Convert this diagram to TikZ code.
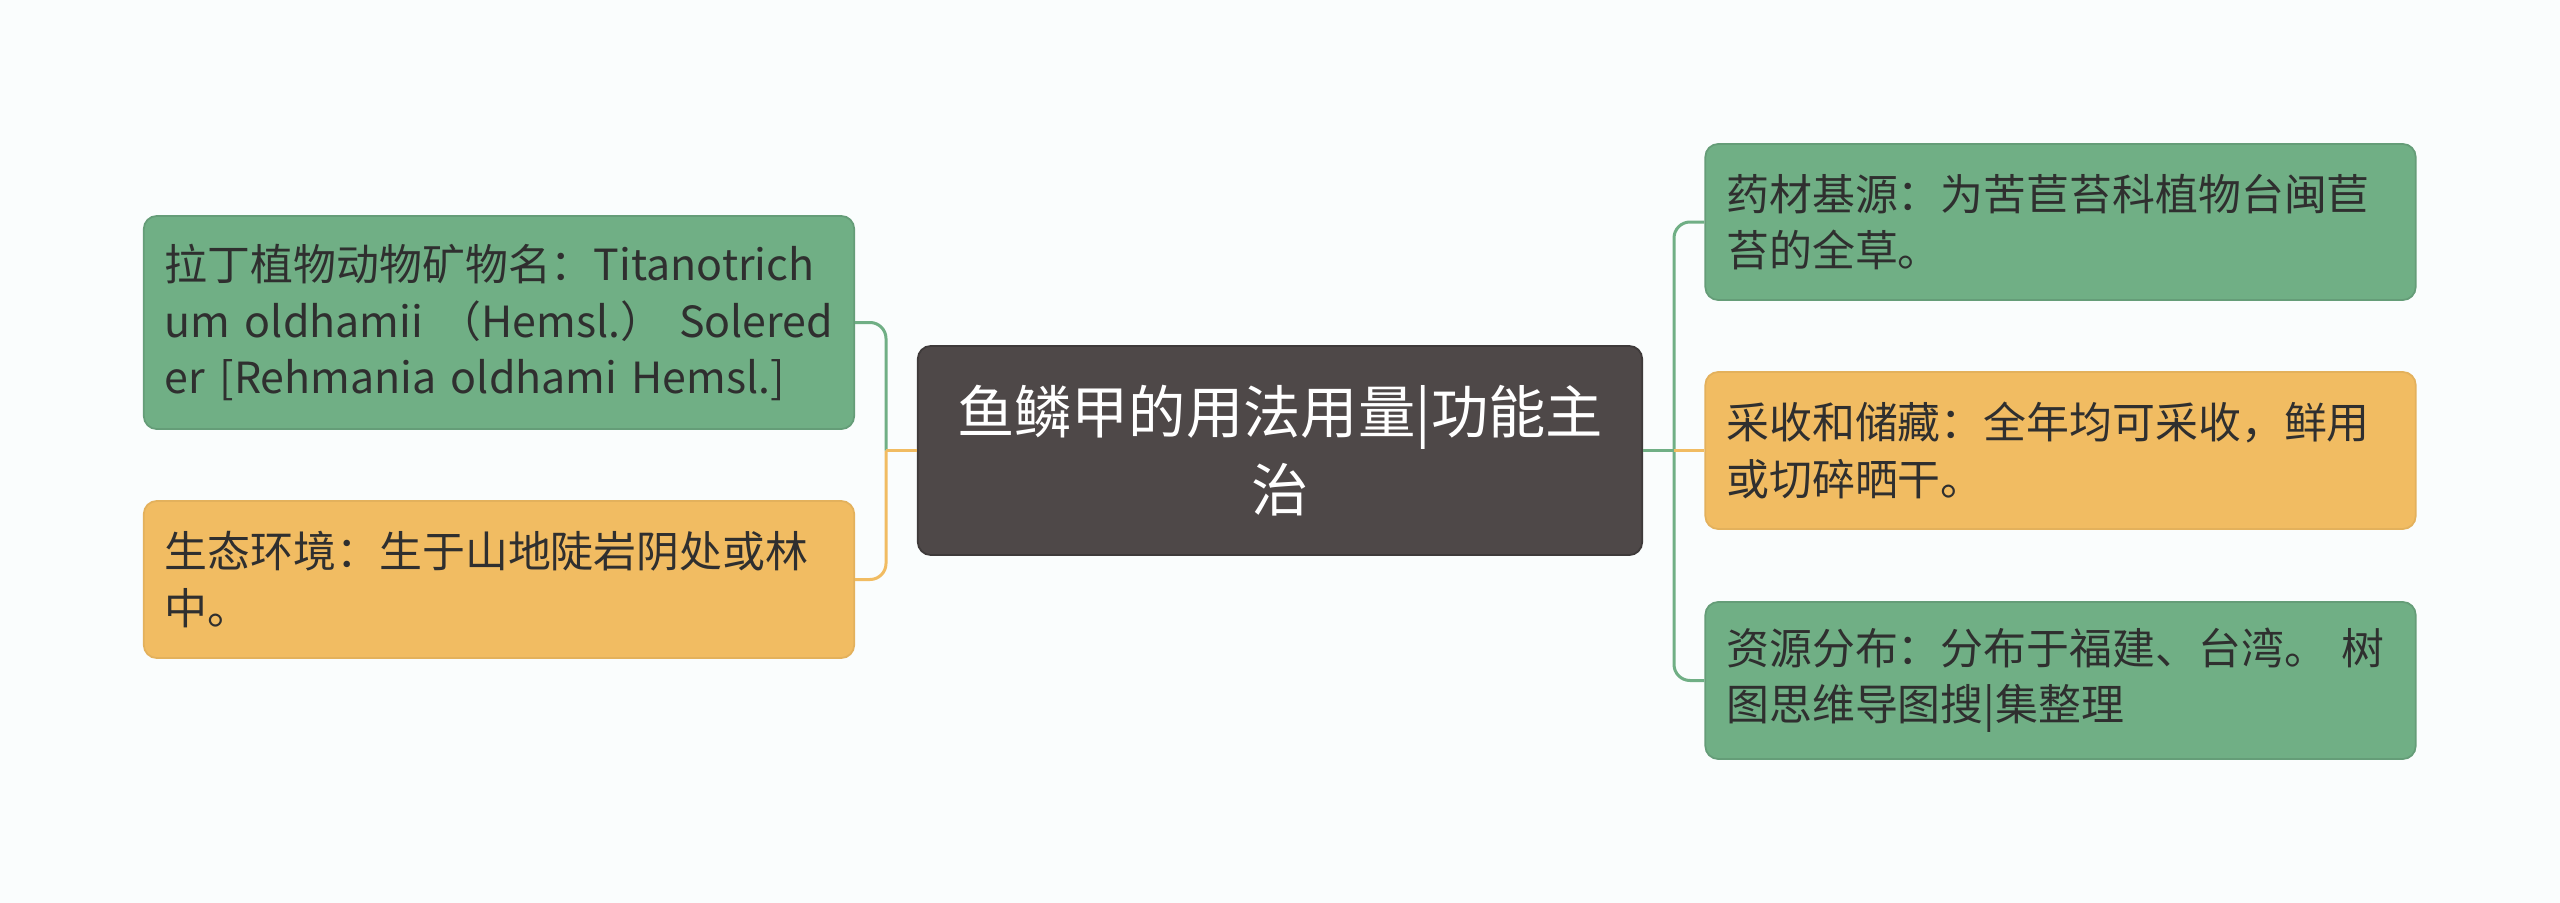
\documentclass[tikz,border=0pt]{standalone}
\usepackage{fontspec}
\newfontfamily\cjk{Noto Sans CJK SC}

\definecolor{leafgreen}{HTML}{70AF85}
\definecolor{leaforange}{HTML}{F1BC62}
\definecolor{topicgray}{HTML}{4E4848}
\definecolor{inkgray}{HTML}{2F2F2F}
\definecolor{paper}{HTML}{FAFDFD}

\begin{document}
\begin{tikzpicture}[x=0.01cm, y=-0.01cm,
			leaf/.style={rectangle, rounded corners=0.13cm, text width=6.68cm, inner xsep=0.21cm, inner ysep=0cm,
				align=left, text=inkgray, line width=0.5pt, font=\cjk\fontsize{12.2}{16}\selectfont},
			greenleaf/.style={leaf, fill=leafgreen, draw=leafgreen!90!black},
			orangeleaf/.style={leaf, fill=leaforange, draw=leaforange!94!black},
			topic/.style={rectangle, rounded corners=0.13cm, minimum width=7.24cm, minimum height=2.09cm,
				fill=topicgray, draw=topicgray!80!black, line width=0.5pt, text=white, align=center,
				font=\cjk\fontsize{16.3}{22}\selectfont},
			greenlink/.style={draw=leafgreen, line width=0.03cm},
			orangelink/.style={draw=leaforange, line width=0.03cm},
			]
			
			% page
			\fill[paper] (0,0) rectangle (2560,903);
			
			% central topic
			\node[topic] (topic) at (1280,450.5) {鱼鳞甲的用法用量|功能主\\治};
			
			% left side
			\node[greenleaf, minimum height=2.13cm] (latin) at (499,322.5)
				{拉丁植物动物矿物名：Titanotrich\\um oldhamii\hskip 0pt plus 1fill（Hemsl.）\hskip 0pt plus 1fill Solered\\er [Rehmania oldhami Hemsl.]};
			\node[orangeleaf, minimum height=1.57cm] (habitat) at (499,579.5)
				{生态环境：生于山地陡岩阴处或林\\中。};
			
			% right side
			\node[greenleaf, minimum height=1.56cm] (source) at (2060.5,222)
				{药材基源：为苦苣苔科植物台闽苣\\苔的全草。};
			\node[orangeleaf, minimum height=1.57cm] (harvest) at (2060.5,450.5)
				{采收和储藏：全年均可采收，鲜用\\或切碎晒干。};
			\node[greenleaf, minimum height=1.57cm] (spread) at (2060.5,680.5)
				{资源分布：分布于福建、台湾。 树\\图思维导图搜|集整理};
			
			% branch points
			\coordinate (jl) at (886,450.5);
			\coordinate (jr) at (1674,450.5);
			
			% connectors
			\draw[greenlink, rounded corners=0.16cm] (jl) |- (latin.east);
			\draw[orangelink, rounded corners=0.16cm] (jl) |- (habitat.east);
			\draw[orangelink] (topic.west) -- (jl);
			
			\draw[greenlink, rounded corners=0.16cm] (jr) |- (source.west);
			\draw[greenlink, rounded corners=0.16cm] (jr) |- (spread.west);
			\draw[orangelink] (jr) -- (harvest.west);
			\draw[greenlink] (topic.east) -- (jr);
			
		\end{tikzpicture}
\end{document}
